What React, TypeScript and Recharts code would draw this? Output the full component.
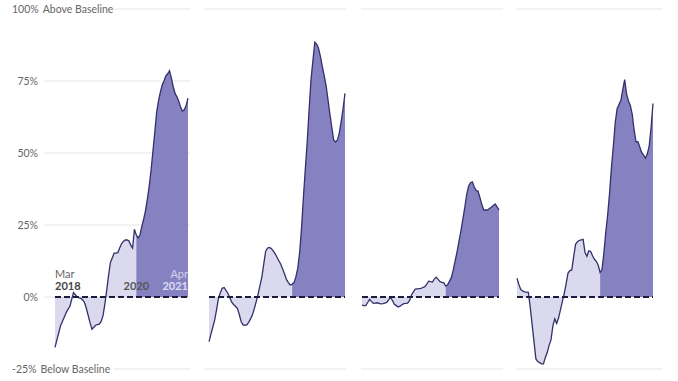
import React from 'react';
import {
  ComposedChart,
  Area,
  Line,
  XAxis,
  YAxis,
  CartesianGrid,
  ReferenceLine,
  ReferenceDot,
} from 'recharts';

// months since Mar 2018, half-month steps (0 .. 36)
const months = Array.from({ length: 73 }, (_, i) => i / 2);
const SPLIT = 22; // Jan 2020
const yTicks = [-25, 0, 25, 50, 75, 100];

const panel1 = [
  -17.5, -15, -12.5, -10, -8.5, -7, -5.5, -4.3, -3.4, -1,
  1.5, 0.8, 0, -0.3, -0.5, -1, -2, -4, -6.5, -9,
  -11.2, -10.5, -9.8, -9.6, -9.4, -8.5, -6.5, -2.5, 2.4, 7.5,
  12, 13.5, 15.2, 15.2, 15.4, 17, 18.5, 19.3, 19.8, 19.8,
  19.5, 18, 17, 23.5, 21.5, 20.5, 21.5, 24.5, 27, 30,
  34, 38.5, 44, 50.5, 57, 64, 68, 71, 73.5, 75,
  76.8, 77.5, 78.6, 76, 73, 70.7, 69.5, 68, 66, 64.6,
  65, 66.5, 69,
];

const panel2 = [
  -15.5, -13, -10.5, -8, -4.5, -0.5, 1.5, 3, 3.3, 2.3,
  1.3, -0.2, -1.8, -2.6, -3.2, -3.9, -6, -8.5, -9.7, -9.8,
  -9.7, -8.8, -7.6, -6.2, -4, -1.6, 1, 4, 7, 11.5,
  15.9, 17, 17.2, 16.8, 16, 15, 13.8, 12.6, 11.4, 9.7,
  8, 6.1, 5, 4.2, 4.4, 5, 7, 10, 15.5, 24,
  34.8, 44.5, 54, 65, 75.5, 82, 88.5, 87.8, 86.3, 83.5,
  80, 76.8, 73.3, 68.5, 63.5, 59, 54.5, 53.8, 54.5, 57,
  61, 65.5, 70.7,
];

const panel3 = [
  -2.8, -3, -3, -1.9, -0.8, -1.6, -2.2, -2.1, -2, -2.2,
  -2.4, -2.3, -2.1, -1.9, -1, -0.2, -1.2, -2.5, -3, -3.5,
  -3.2, -2.7, -2.3, -2.2, -2.1, -1.2, 0.7, 1.8, 2.7, 2.8,
  2.9, 3, 3.3, 3.6, 4.5, 5.5, 5.3, 5.2, 6.2, 6.9,
  6.1, 5.3, 5.1, 4.9, 3.8, 4.2, 5.5, 6.8, 9.5, 12.7,
  15.8, 19.5, 23, 27, 31, 35.5, 38.5, 39.7, 40, 38.2,
  37, 36.7, 34.5, 32, 30.2, 30.2, 30.2, 30.7, 31.2, 31.8,
  32.3, 31.3, 30.2,
];

const panel4 = [
  6.5, 4.3, 2.6, 2.1, 1.8, 1.7, 1.6, -3.5, -9.5, -15.5,
  -21.5, -22.4, -22.8, -23.2, -23.2, -21, -19.3, -16.8, -14.9, -10,
  -7.6, -9.2, -7.3, -4.5, -1.6, 1.2, 4.6, 8.3, 9.2, 9.4,
  14, 18.3, 19.2, 19.7, 19.8, 20, 15.5, 14.1, 16, 15.8,
  14.3, 13.1, 12.4, 11, 8.5, 9.5, 15.3, 22.5, 28.5, 36,
  45, 52.3, 60.5, 65.4, 66.8, 68.3, 72, 75.5, 70.5, 68.1,
  66.5, 63.4, 58, 53.9, 53.9, 52.1, 50.2, 49.3, 48.2, 49.7,
  52.5, 59, 67.2,
];

const LIGHT = '#dad9ee';
const DARK = '#8682c2';
const LINE = '#33306a';
const FONT = 'Lato, "Open Sans", sans-serif';

const toRows = (values: number[]) =>
  months.map((t, i) => ({
    t,
    v: values[i],
    pre: t <= SPLIT ? values[i] : null,
    post: t >= SPLIT ? values[i] : null,
  }));

const YTick = (props: any) => {
  const { y, payload } = props;
  const v = payload.value;
  const style = { fontFamily: FONT, fontSize: 10.5, fill: '#666' };
  if (v === 100 || v === -25) {
    return (
      <g>
        <rect x={8} y={y - 8} width={106} height={16} fill="#fff" />
        <text x={12} y={y} dy={4} style={style}>
          {v}%<tspan dx={4}>{v === 100 ? 'Above Baseline' : 'Below Baseline'}</tspan>
        </text>
      </g>
    );
  }
  return (
    <text x={38} y={y} dy={4} textAnchor="end" style={style}>
      {v}%
    </text>
  );
};

const makeLabel = (lines: { text: string; dy: number; fill: string; weight: number }[], anchor: string) =>
  (p: any) => (
    <g>
      {lines.map((l) => (
        <text
          key={l.text}
          x={p.cx}
          y={p.cy}
          dy={l.dy}
          textAnchor={anchor}
          style={{ fontFamily: FONT, fontSize: 11, fill: l.fill, fontWeight: l.weight }}
        >
          {l.text}
        </text>
      ))}
    </g>
  );

interface PanelProps {
  values: number[];
  left: number;
  width: number;
  padL: number;
  padR: number;
  first?: boolean;
}

function Panel({ values, left, width, padL, padR, first }: PanelProps) {
  const rows = toRows(values);
  return (
    <div style={{ position: 'absolute', left, top: 0 }}>
      <ComposedChart
        width={width}
        height={381}
        data={rows}
        margin={{ top: 9, right: first ? 2 : 0, bottom: 12, left: 0 }}
      >
        <CartesianGrid vertical={false} stroke="#e6e6e6" />
        <XAxis
          type="number"
          dataKey="t"
          domain={[0, 36]}
          hide
          padding={{ left: padL, right: padR }}
        />
        <YAxis
          domain={[-25, 100]}
          ticks={yTicks}
          hide={!first}
          width={first ? 44 : 0}
          axisLine={false}
          tickLine={false}
          tick={first ? <YTick /> : false}
          interval={0}
        />
        <Area
          dataKey="pre"
          type="linear"
          fill={LIGHT}
          fillOpacity={1}
          stroke="none"
          baseValue={0}
          isAnimationActive={false}
        />
        <Area
          dataKey="post"
          type="linear"
          fill={DARK}
          fillOpacity={1}
          stroke="none"
          baseValue={0}
          isAnimationActive={false}
        />
        <Line
          dataKey="v"
          type="linear"
          stroke={LINE}
          strokeWidth={1.3}
          dot={false}
          activeDot={false}
          isAnimationActive={false}
        />
        <ReferenceLine
          segment={[
            { x: 0, y: 0 },
            { x: 36, y: 0 },
          ]}
          stroke="#1d1b3c"
          strokeWidth={2}
          strokeDasharray="6 3"
        />
        {first && (
          <ReferenceDot
            x={0}
            y={0}
            r={0}
            shape={makeLabel(
              [
                { text: 'Mar', dy: -19, fill: '#666', weight: 400 },
                { text: '2018', dy: -7, fill: '#444', weight: 700 },
              ],
              'start'
            )}
          />
        )}
        {first && (
          <ReferenceDot
            x={SPLIT}
            y={0}
            r={0}
            shape={makeLabel([{ text: '2020', dy: -7, fill: '#555', weight: 700 }], 'middle')}
          />
        )}
        {first && (
          <ReferenceDot
            x={36}
            y={0}
            r={0}
            shape={makeLabel(
              [
                { text: 'Apr', dy: -19, fill: '#d4d2ec', weight: 400 },
                { text: '2021', dy: -7, fill: '#dedcf2', weight: 700 },
              ],
              'end'
            )}
          />
        )}
      </ComposedChart>
    </div>
  );
}

export default function App() {
  return (
    <div style={{ position: 'absolute', left: 0, top: 0, width: 678, height: 381, background: '#fff' }}>
      <Panel values={panel1} left={0} width={192} padL={11} padR={2} first />
      <Panel values={panel2} left={204} width={142} padL={5} padR={1} />
      <Panel values={panel3} left={361} width={142} padL={1} padR={4} />
      <Panel values={panel4} left={516} width={146} padL={1} padR={9} />
    </div>
  );
}
